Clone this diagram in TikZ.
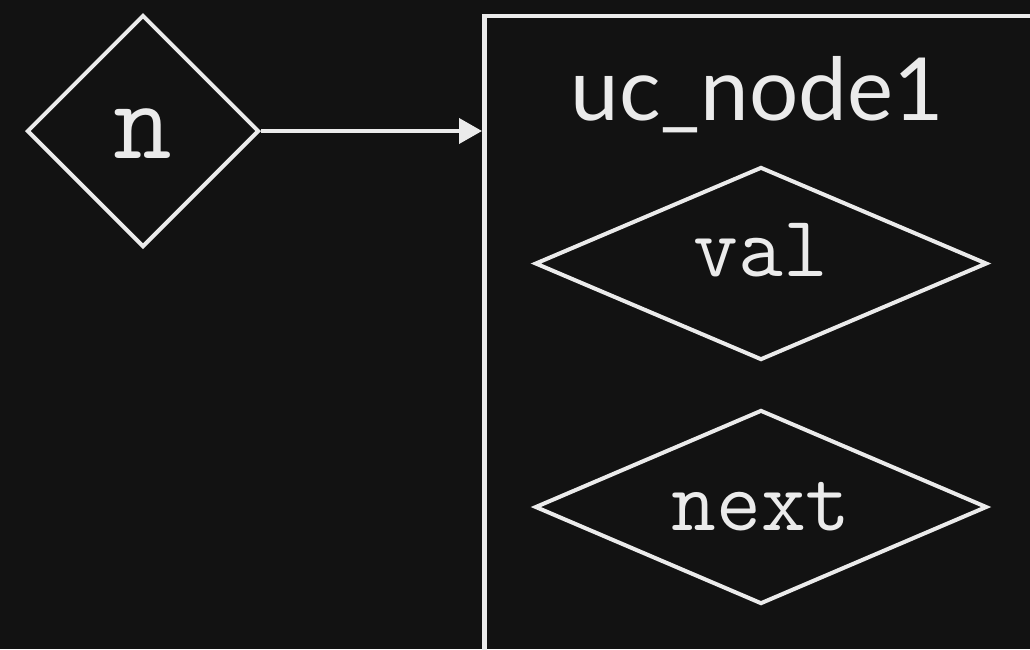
\documentclass[tikz,border=0pt]{standalone}
\usepackage{fontspec}
\setmainfont{Lato}
\usepackage{tikz}
\usetikzlibrary{arrows.meta}
\usetikzlibrary{shapes.geometric}

\definecolor{bgdark}{HTML}{121212}
\definecolor{inkwhite}{HTML}{EBEBEB}

\begin{document}
\begin{tikzpicture}[x=1pt,y=-1pt]
	\fill[bgdark] (0,0) rectangle (1030,649);
	\useasboundingbox (0,0) rectangle (1030,649);
	\begin{scope}[every node/.style = {diamond, draw=inkwhite, line width=4pt, inner sep=0pt},
			every label/.style = {text=inkwhite, draw=none,
			font=\ttfamily\fontsize{87}{87}\selectfont}]
		\node[minimum width=232pt, minimum height=232pt,
			label={[yshift=-2.5pt, font=\ttfamily\fontsize{114}{114}\selectfont]center:n}] (N) at (143,131) {};
		\node[minimum width=452pt, minimum height=193pt,
			label={[yshift=13.5pt]center:val}] (V) at (761,263.5) {};
		\node[minimum width=452pt, minimum height=194pt,
			label={center:next}] (X) at (761,507) {};
	\end{scope}
	\begin{scope}[every node/.style = {draw=inkwhite, line width=4.5pt, anchor=north west,
			inner sep=0pt}]
		\node[minimum width=600pt, minimum height=660pt] (U) at (482,13.5) {};
	\end{scope}
	\begin{scope}[every node/.style = {text=inkwhite, anchor=base}]
		\node[font=\fontsize{87}{87}\selectfont] (T) at (757,120) {uc\_node1};
	\end{scope}
	\begin{scope}[>={Triangle[length=23pt,width=25pt]},
			every edge/.style={draw=inkwhite, line width=4pt}]
		\path [->] (N.east) edge (N.east -| U.west);
	\end{scope}
\end{tikzpicture}
\end{document}
